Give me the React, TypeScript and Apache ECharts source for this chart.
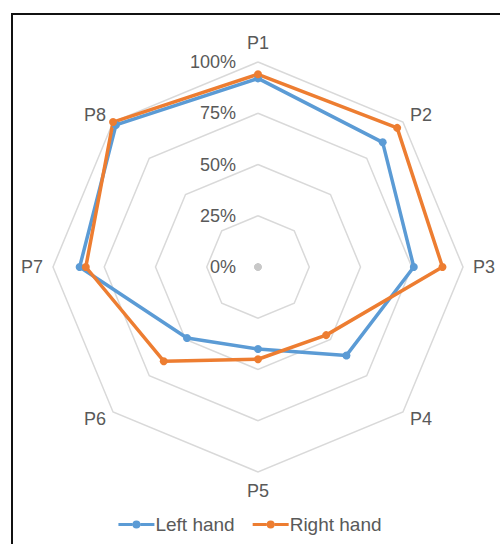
import React, { useEffect, useRef } from "react";
import * as echarts from "echarts";

const indicators = ["P1", "P2", "P3", "P4", "P5", "P6", "P7", "P8"];
const leftHand = [92, 86, 76, 61, 40, 49, 87, 98];
const rightHand = [94, 96, 90, 47, 45, 65, 84, 100];
const origin = [0, 0, 0, 0, 0, 0, 0, 0];
const seriesNames = ["Left hand", "Right hand"];
const seriesColors = ["#5B9BD5", "#ED7D31"];

const FONT = "Arial, 'Liberation Sans', sans-serif";
const TEXT = "#595959";
const GRID = "#D9D9D9";

// ECharts lays radar axes out counter-clockwise; this order puts P1..P8 clockwise from the top
const n = indicators.length;
const order = indicators.map((_, i) => (i === 0 ? 0 : n - i));
const arrange = (arr: number[]) => order.map((k) => arr[k]);

// legend glyph: a short line with a dot in the middle
const LEGEND_ICON =
  "path://M0,3.6h14v2.8h-14z M22,3.6h14v2.8h-14z M14,5a4,4 0 1,0 8,0a4,4 0 1,0 -8,0z";

export default function App() {
  const ref = useRef<HTMLDivElement>(null);

  useEffect(() => {
    if (!ref.current) return;
    const chart = echarts.init(ref.current, null, { renderer: "svg" });
    chart.setOption({
      animation: false,
      backgroundColor: "#ffffff",
      legend: {
        bottom: 5,
        left: "center",
        itemWidth: 36,
        itemHeight: 10,
        itemGap: 18,
        icon: LEGEND_ICON,
        textStyle: { color: TEXT, fontSize: 19, fontFamily: FONT, padding: [0, 0, 0, -4] },
        data: seriesNames,
      },
      radar: {
        center: [258, 267],
        radius: 205,
        startAngle: 90,
        shape: "polygon",
        splitNumber: 4,
        nameGap: 10,
        axisName: { color: TEXT, fontSize: 18, fontFamily: FONT },
        axisLine: { show: false },
        axisTick: { show: false },
        splitArea: { show: false },
        splitLine: { lineStyle: { color: GRID, width: 1.5 } },
        axisLabel: { show: false },
        indicator: order.map((k, i) =>
          i === 0
            ? {
                name: indicators[k],
                min: 0,
                max: 100,
                axisLabel: {
                  show: true,
                  color: TEXT,
                  fontSize: 18,
                  fontFamily: FONT,
                  margin: 22,
                  formatter: (v: number) => `${v}%`,
                },
              }
            : { name: indicators[k], min: 0, max: 100 }
        ),
      },
      series: [
        {
          type: "radar",
          silent: true,
          data: [
            {
              name: "origin",
              value: origin,
              symbol: "circle",
              symbolSize: 7,
              itemStyle: { color: "#C8C8C8" },
              lineStyle: { width: 0, opacity: 0 },
            },
          ],
        },
        {
          name: seriesNames[0],
          type: "radar",
          color: seriesColors[0],
          symbol: "circle",
          symbolSize: 8,
          lineStyle: { width: 3.5, color: seriesColors[0] },
          itemStyle: { color: seriesColors[0] },
          data: [{ name: seriesNames[0], value: arrange(leftHand) }],
        },
        {
          name: seriesNames[1],
          type: "radar",
          color: seriesColors[1],
          symbol: "circle",
          symbolSize: 8,
          lineStyle: { width: 3.5, color: seriesColors[1] },
          itemStyle: { color: seriesColors[1] },
          data: [{ name: seriesNames[1], value: arrange(rightHand) }],
        },
      ],
    });
    return () => chart.dispose();
  }, []);

  return (
    <div style={{ position: "fixed", left: 0, top: 0, width: 500, height: 544, background: "#fff" }}>
      <div ref={ref} style={{ position: "absolute", left: 0, top: 0, width: 500, height: 544 }} />
      <div
        style={{
          position: "absolute",
          left: 11,
          top: 13,
          width: 520,
          height: 560,
          borderLeft: "2px solid #111",
          borderTop: "2px solid #111",
          pointerEvents: "none",
        }}
      />
    </div>
  );
}
